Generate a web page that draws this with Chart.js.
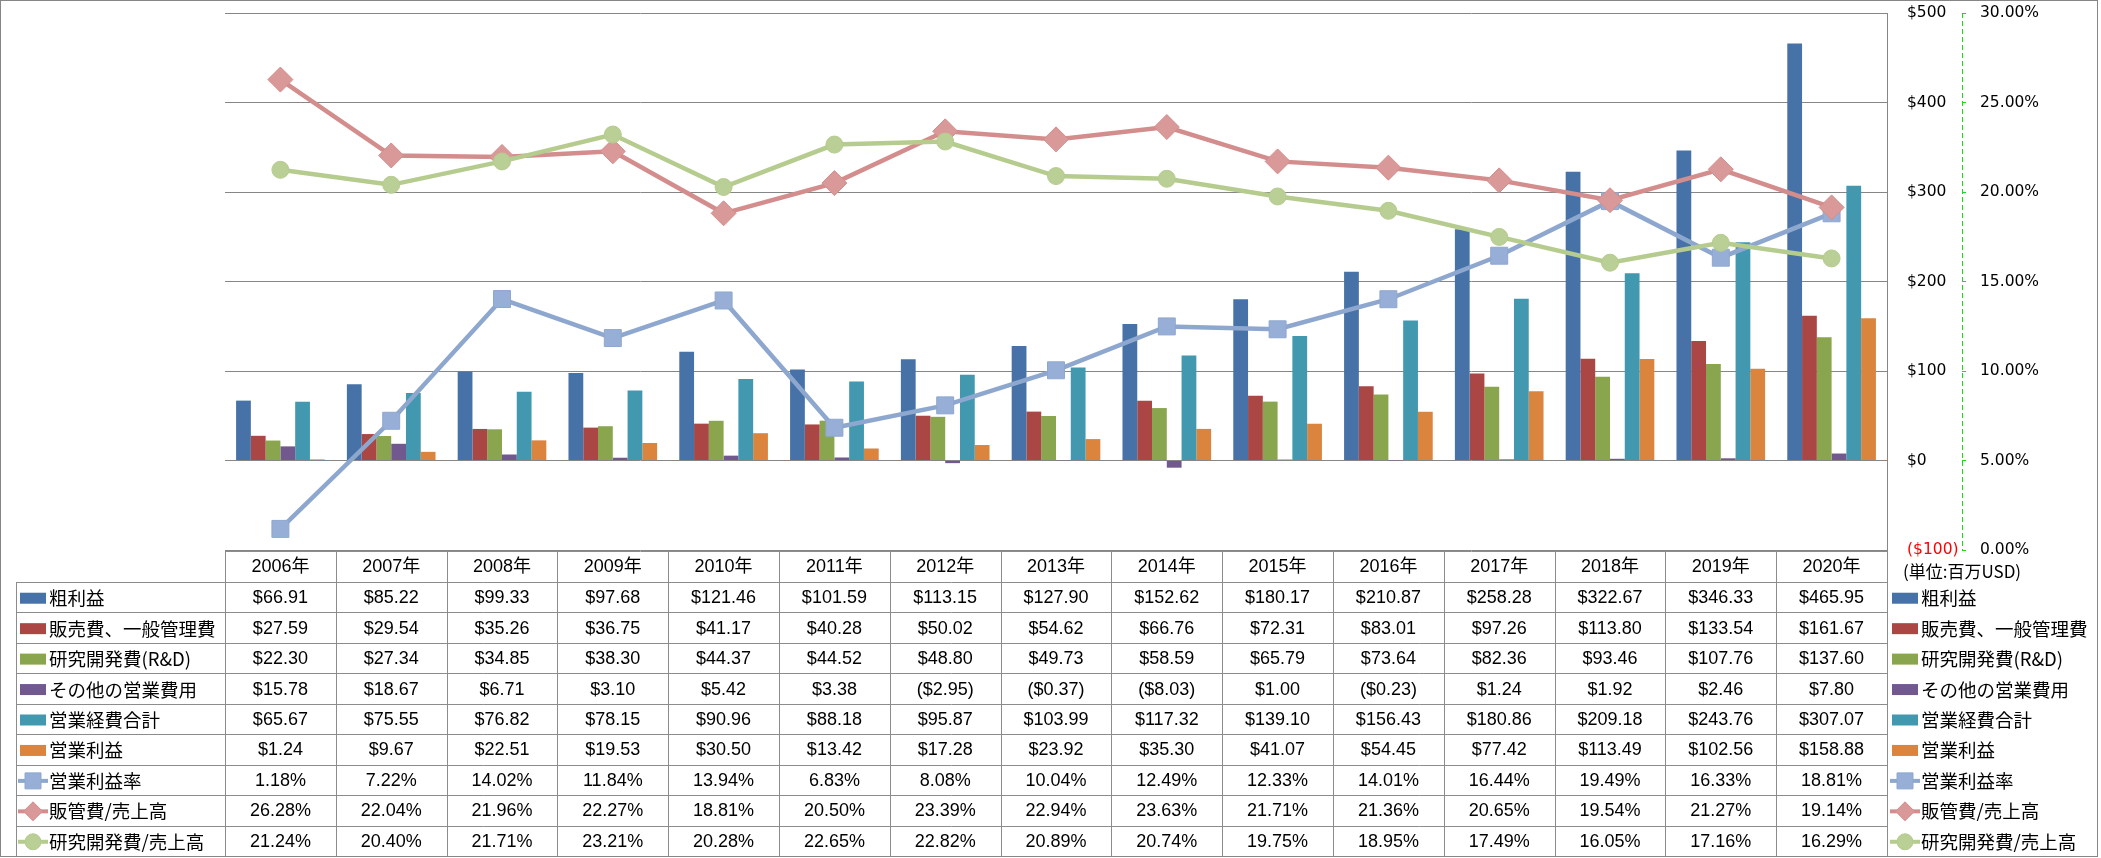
<!DOCTYPE html>
<html>
<head>
<meta charset="utf-8">
<script src="https://cdn.jsdelivr.net/npm/chart.js@4.4.1/dist/chart.umd.min.js"></script>
<style>
  html, body { margin: 0; padding: 0; background: #fff; }
  canvas { display: block; }
</style>
</head>
<body>
<canvas id="finChart" width="2101" height="858"></canvas>
<script>
var years = ['2006年', '2007年', '2008年', '2009年', '2010年', '2011年', '2012年', '2013年', '2014年', '2015年', '2016年', '2017年', '2018年', '2019年', '2020年'];

// 単位: 百万USD
var grossProfit = [66.91, 85.22, 99.33, 97.68, 121.46, 101.59, 113.15, 127.90, 152.62, 180.17, 210.87, 258.28, 322.67, 346.33, 465.95];
var sgaExpense = [27.59, 29.54, 35.26, 36.75, 41.17, 40.28, 50.02, 54.62, 66.76, 72.31, 83.01, 97.26, 113.80, 133.54, 161.67];
var rdExpense = [22.30, 27.34, 34.85, 38.30, 44.37, 44.52, 48.80, 49.73, 58.59, 65.79, 73.64, 82.36, 93.46, 107.76, 137.60];
var otherExpense = [15.78, 18.67, 6.71, 3.10, 5.42, 3.38, -2.95, -0.37, -8.03, 1.00, -0.23, 1.24, 1.92, 2.46, 7.80];
var totalExpense = [65.67, 75.55, 76.82, 78.15, 90.96, 88.18, 95.87, 103.99, 117.32, 139.10, 156.43, 180.86, 209.18, 243.76, 307.07];
var operatingIncome = [1.24, 9.67, 22.51, 19.53, 30.50, 13.42, 17.28, 23.92, 35.30, 41.07, 54.45, 77.42, 113.49, 102.56, 158.88];

// %
var operatingMargin = [1.18, 7.22, 14.02, 11.84, 13.94, 6.83, 8.08, 10.04, 12.49, 12.33, 14.01, 16.44, 19.49, 16.33, 18.81];
var sgaRatio = [26.28, 22.04, 21.96, 22.27, 18.81, 20.50, 23.39, 22.94, 23.63, 21.71, 21.36, 20.65, 19.54, 21.27, 19.14];
var rdRatio = [21.24, 20.40, 21.71, 23.21, 20.28, 22.65, 22.82, 20.89, 20.74, 19.75, 18.95, 17.49, 16.05, 17.16, 16.29];

var moneyTicks = [-100, 0, 100, 200, 300, 400, 500];
var pctTicks = [0, 5, 10, 15, 20, 25, 30];

function money(v) {
  var s = '$' + Math.abs(v).toFixed(2);
  return v < 0 ? '(' + s + ')' : s;
}
function pct(v) {
  return v.toFixed(2) + '%';
}

function barSet(label, data, color) {
  return {
    label: label, data: data, backgroundColor: color, yAxisID: 'y', order: 10,
    categoryPercentage: 0.8, barPercentage: 1.0
  };
}
function lineSet(label, data, color, fill, style, radius, order) {
  return {
    type: 'line', label: label, data: data, yAxisID: 'y1', order: order,
    borderColor: color, backgroundColor: fill, borderWidth: 4.5, tension: 0,
    pointStyle: style, pointRadius: radius, pointHoverRadius: radius,
    pointBackgroundColor: fill, pointBorderColor: color, pointBorderWidth: 1, clip: false
  };
}

function drawMarker(ctx, style, cx, cy, half, fill, stroke) {
  ctx.beginPath();
  if (style === 'rect') {
    ctx.rect(cx - half, cy - half, half * 2, half * 2);
  } else if (style === 'rectRot') {
    ctx.moveTo(cx - half, cy); ctx.lineTo(cx, cy - half);
    ctx.lineTo(cx + half, cy); ctx.lineTo(cx, cy + half);
    ctx.closePath();
  } else {
    ctx.arc(cx, cy, half, 0, Math.PI * 2);
  }
  ctx.fillStyle = fill; ctx.fill();
  ctx.strokeStyle = stroke; ctx.lineWidth = 1; ctx.stroke();
}

function drawKey(ctx, ds, x, cy) {
  if (ds.type === 'line') {
    ctx.strokeStyle = ds.borderColor;
    ctx.lineWidth = 4;
    ctx.beginPath(); ctx.moveTo(x - 2, cy); ctx.lineTo(x + 28, cy); ctx.stroke();
    var half = ds.pointStyle === 'rect' ? 8 : (ds.pointStyle === 'rectRot' ? 9.5 : 8);
    drawMarker(ctx, ds.pointStyle, x + 13, cy, half, ds.pointBackgroundColor, ds.pointBorderColor);
  } else {
    ctx.fillStyle = ds.backgroundColor;
    ctx.fillRect(x, cy - 5.5, 26, 11);
  }
}

// the right axes must not push the plot top down
function fixAxis(width) {
  return function(s) {
    s.width = width;
    s.paddingTop = 0;
    s.paddingBottom = 0;
  };
}

var axisGreen = '#1ed81e';

// data table under the plot + outer frame
var tablePlugin = {
  id: 'dataTable',
  afterDraw: function(chart) {
    var ctx = chart.ctx;
    var area = chart.chartArea;
    var xs = chart.scales.x;
    var y1 = chart.scales.y1;
    var sets = chart.data.datasets;
    var n = years.length;
    var cw = (area.right - area.left) / n;
    var top = 551, headBottom = 582, bottom = 856;
    var rowH = (bottom - headBottom) / sets.length;
    var tableLeft = 16;

    ctx.save();
    // dashed line of the % axis
    ctx.strokeStyle = axisGreen;
    ctx.lineWidth = 1;
    ctx.setLineDash([5, 3]);
    ctx.beginPath();
    ctx.moveTo(Math.round(y1.left) + 0.5, y1.top);
    ctx.lineTo(Math.round(y1.left) + 0.5, y1.bottom);
    ctx.stroke();
    ctx.setLineDash([]);

    ctx.strokeStyle = '#8c8c8c';
    ctx.beginPath();
    ctx.moveTo(area.left, top + 0.5); ctx.lineTo(area.right, top + 0.5);
    for (var r = 0; r <= sets.length; r++) {
      var ly = Math.round(headBottom + r * rowH) + 0.5;
      ctx.moveTo(tableLeft, ly); ctx.lineTo(area.right, ly);
    }
    ctx.moveTo(tableLeft + 0.5, headBottom); ctx.lineTo(tableLeft + 0.5, bottom);
    for (var c = 0; c <= n; c++) {
      var lx = Math.round(area.left + c * cw) + 0.5;
      ctx.moveTo(lx, top); ctx.lineTo(lx, bottom);
    }
    ctx.stroke();

    ctx.fillStyle = '#000';
    ctx.textAlign = 'center';
    ctx.textBaseline = 'middle';
    ctx.font = "18px 'Liberation Sans', 'Noto Sans CJK JP'";
    for (var i = 0; i < n; i++) {
      ctx.fillText(years[i], xs.getPixelForValue(i), (top + headBottom) / 2 + 1);
    }

    for (var k = 0; k < sets.length; k++) {
      var ds = sets[k];
      var cy = headBottom + (k + 0.5) * rowH + 1;
      var fmt = ds.type === 'line' ? pct : money;
      ctx.fillStyle = '#000';
      ctx.textAlign = 'center';
      ctx.font = "18px 'Liberation Sans', 'Noto Sans CJK JP'";
      for (var j = 0; j < n; j++) {
        ctx.fillText(fmt(ds.data[j]), xs.getPixelForValue(j), cy);
      }
      // row label on the left, legend on the right
      drawKey(ctx, ds, 20, cy);
      drawKey(ctx, ds, 1892, cy);
      ctx.fillStyle = '#000';
      ctx.textAlign = 'left';
      ctx.font = "18.5px 'Noto Sans CJK JP'";
      ctx.fillText(ds.label, 49, cy);
      ctx.fillText(ds.label, 1921, cy);
    }

    ctx.font = "17px 'Noto Sans CJK JP'";
    ctx.fillStyle = '#000';
    ctx.textAlign = 'left';
    ctx.fillText('(単位:百万USD)', 1903, 572);

    ctx.strokeStyle = '#868686';
    ctx.strokeRect(0.5, 0.5, 2097, 856);
    ctx.restore();
  }
};

var tickFont = { family: 'DejaVu Sans', size: 15.5 };

var finChart = new Chart(document.getElementById('finChart').getContext('2d'), {
  type: 'bar',
  data: {
    labels: years,
    datasets: [
      barSet('粗利益', grossProfit, '#4672A8'),
      barSet('販売費、一般管理費', sgaExpense, '#AA4644'),
      barSet('研究開発費(R&D)', rdExpense, '#89A54E'),
      barSet('その他の営業費用', otherExpense, '#71588F'),
      barSet('営業経費合計', totalExpense, '#4198AF'),
      barSet('営業利益', operatingIncome, '#DB843D'),
      lineSet('営業利益率', operatingMargin, '#8EA7CF', '#97AFD6', 'rect', 12, 3),
      lineSet('販管費/売上高', sgaRatio, '#D38D8C', '#D99998', 'rectRot', 12.5, 2),
      lineSet('研究開発費/売上高', rdRatio, '#B5CC8E', '#BACF95', 'circle', 8.5, 1)
    ]
  },
  options: {
    responsive: false,
    animation: false,
    layout: { autoPadding: false, padding: { left: 225, top: 13, right: 39, bottom: 308 } },
    plugins: {
      legend: { display: false },
      tooltip: { enabled: false }
    },
    scales: {
      x: { display: false },
      y: {
        position: 'right',
        min: moneyTicks[0],
        max: moneyTicks[moneyTicks.length - 1],
        afterBuildTicks: function(s) { s.ticks = moneyTicks.map(function(v) { return { value: v }; }); },
        afterFit: fixAxis(75),
        grid: { color: '#868686', lineWidth: 1, drawTicks: false },
        border: { display: true, color: '#868686', width: 1 },
        ticks: {
          padding: 20,
          crossAlign: 'near',
          font: tickFont,
          color: function(c) { return c.tick && c.tick.value < 0 ? '#ff0000' : '#000'; },
          callback: function(v) { return v < 0 ? '($' + Math.abs(v) + ')' : '$' + v; }
        }
      },
      y1: {
        position: 'right',
        weight: 1,
        min: pctTicks[0],
        max: pctTicks[pctTicks.length - 1],
        afterBuildTicks: function(s) { s.ticks = pctTicks.map(function(v) { return { value: v }; }); },
        afterFit: fixAxis(100),
        grid: { drawOnChartArea: false, drawTicks: true, tickLength: 4, color: axisGreen },
        border: { display: false },
        ticks: {
          padding: 14,
          crossAlign: 'near',
          font: tickFont,
          color: '#000',
          callback: function(v) { return v.toFixed(2) + '%'; }
        }
      }
    }
  },
  plugins: [tablePlugin]
});
</script>
</body>
</html>
